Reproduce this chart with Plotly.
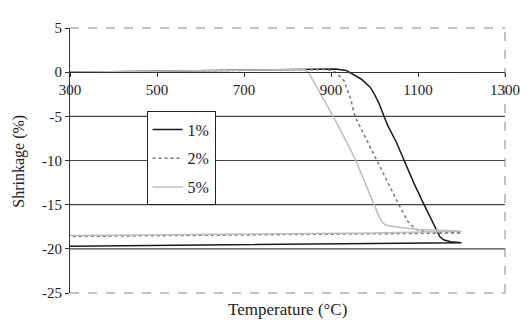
import plotly.graph_objects as go

# ---- data ----
t_1 = [300, 400, 500, 600, 700, 800, 870, 910, 935, 950, 970, 990, 1000, 1010, 1020, 1030,
       1050, 1070, 1090, 1110, 1130, 1140, 1150, 1160, 1175, 1200,
       1000, 726, 500, 300]
s_1 = [0.0, 0.05, 0.1, 0.15, 0.2, 0.27, 0.35, 0.35, 0.2, -0.2, -0.8, -1.7, -2.5, -3.5, -4.7, -6.0,
       -7.9, -10.3, -12.5, -14.6, -16.6, -17.7, -18.6, -19.0, -19.2, -19.3,
       -19.4, -19.5, -19.6, -19.7]

t_2 = [300, 400, 500, 600, 700, 800, 860, 890, 905, 915, 930, 945, 955, 970, 990, 1006,
       1030, 1056, 1075, 1090, 1100, 1130, 1160, 1200,
       1000, 726, 500, 300]
s_2 = [0.0, 0.05, 0.1, 0.15, 0.2, 0.27, 0.3, 0.3, 0.15, -0.2, -1.0, -3.0, -5.0, -6.5, -8.5, -10.0,
       -12.4, -15.0, -16.8, -17.6, -17.9, -18.1, -18.15, -18.2,
       -18.3, -18.4, -18.5, -18.6]

t_5 = [300, 400, 500, 600, 700, 800, 838, 848, 855, 865, 876, 890, 905, 920, 932, 945, 957,
       970, 985, 1000, 1010, 1018, 1025, 1047, 1100, 1150, 1200,
       1000, 726, 500, 300]
s_5 = [0.0, 0.05, 0.1, 0.15, 0.2, 0.27, 0.3, 0.0, -0.6, -1.5, -2.4, -3.7, -5.0, -6.4, -7.5, -8.8, -10.0,
       -11.5, -13.2, -15.0, -16.3, -17.0, -17.3, -17.5, -17.8, -17.9, -18.0,
       -18.2, -18.3, -18.4, -18.5]

series_names = ["1%", "2%", "5%"]
x_ticks = [300, 500, 700, 900, 1100, 1300]
x_tick_labels = ["300", "500", "700", "900", "1100", "1300"]
y_ticks = [5, 0, -5, -10, -15, -20, -25]
y_tick_labels = ["5", "0", "-5", "-10", "-15", "-20", "-25"]
grid_levels = [-5, -10, -15, -20]

FONT = "Liberation Serif"

fig = go.Figure()
styles = [dict(color="#1a1a1a", width=1.5, dash="solid"),
          dict(color="#777777", width=1.5, dash="dot"),
          dict(color="#bdbdbd", width=1.5, dash="solid")]
for name, tx, sy, st, g in zip(series_names, [t_1, t_2, t_5], [s_1, s_2, s_5], styles, ["a", "b", "c"]):
    fig.add_trace(go.Scatter(x=tx, y=sy, mode="lines", name=name, line=st,
                             legendgroup=g))

shapes = []
for lv in grid_levels:
    shapes.append(dict(type="line", xref="paper", x0=0, x1=1, yref="y", y0=lv, y1=lv,
                       line=dict(color="#444444", width=1.2), layer="below"))
# dashed border: top, bottom, right
shapes.append(dict(type="line", xref="paper", x0=0, x1=1, yref="paper", y0=1, y1=1,
                   line=dict(color="#888888", width=1, dash="dash"), layer="below"))
shapes.append(dict(type="line", xref="paper", x0=0, x1=1, yref="paper", y0=0, y1=0,
                   line=dict(color="#888888", width=1, dash="dash"), layer="below"))
shapes.append(dict(type="line", xref="paper", x0=1, x1=1, yref="paper", y0=0, y1=1,
                   line=dict(color="#888888", width=1, dash="dash"), layer="below"))

fig.update_layout(
    width=524, height=315,
    margin=dict(l=62, r=16, t=12, b=30),
    paper_bgcolor="white", plot_bgcolor="white",
    font=dict(family=FONT, size=15, color="#222222"),
    shapes=shapes,
    showlegend=True,
    legend=dict(x=0.176, y=0.685, xanchor="left", yanchor="top",
                bordercolor="#222222", borderwidth=1, bgcolor="white",
                font=dict(family=FONT, size=16, color="#222222"),
                tracegroupgap=5),
    xaxis=dict(range=[300, 1300], tickvals=x_ticks, ticktext=x_tick_labels,
               anchor="free", position=25/30,
               showline=True, linecolor="#333333", linewidth=1.2,
               ticks="outside", ticklen=4, tickcolor="#333333",
               showgrid=False, zeroline=False, ticklabelstandoff=0,
               tickfont=dict(family=FONT, size=15)),
    yaxis=dict(range=[-25, 5], tickvals=y_ticks, ticktext=y_tick_labels,
               showline=True, linecolor="#333333", linewidth=1.2,
               ticks="outside", ticklen=4, tickcolor="#333333",
               showgrid=False, zeroline=False,
               tickfont=dict(family=FONT, size=15)),
    annotations=[
        dict(text="Temperature (°C)", xref="paper", yref="paper", x=0.5, y=-0.062,
             xanchor="center", yanchor="middle", showarrow=False,
             font=dict(family=FONT, size=17, color="#222222")),
        dict(text="Shrinkage (%)", xref="paper", yref="paper", x=-0.118, y=0.498,
             xanchor="center", yanchor="middle", showarrow=False, textangle=-90,
             font=dict(family=FONT, size=16, color="#222222")),
    ],
)

fig.write_html("out.html")
